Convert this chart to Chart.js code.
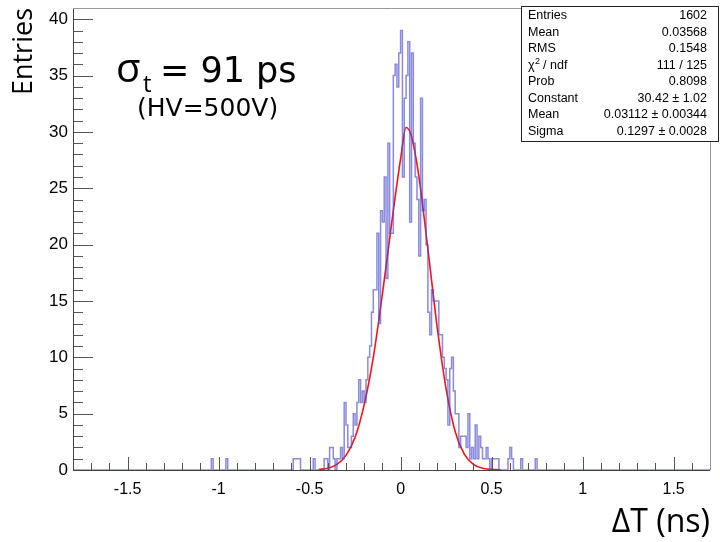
<!DOCTYPE html>
<html>
<head>
<meta charset="utf-8">
<script src="https://cdn.jsdelivr.net/npm/chart.js@4.4.0/dist/chart.umd.min.js"></script>
<style>
  html, body { margin: 0; padding: 0; background: #fff; }
</style>
</head>
<body>
<canvas id="deltaT" width="720" height="542"></canvas>
<script>
// bin contents (0.01 ns bins)
const binWidth = 0.01;
const coreStart = -0.60;
const coreCounts = [
  0, 1, 1, 1, 1, 0, 0, 0, 0, 0,
  0, 0, 1, 0, 0, 0, 0, 0, 1, 1,
  0, 2, 2, 1, 0, 1, 1, 2, 1, 6,
  4, 2, 2, 3, 5, 4, 6, 8, 6, 7,
  6, 8, 10, 11, 14, 16, 16, 21, 13, 23,
  22, 26, 17, 29, 21, 21, 35, 36, 34, 37,
  39, 26, 33, 35, 38, 22, 37, 29, 26, 24,
  19, 33, 23, 24, 20, 14, 12, 16, 15, 15,
  15, 12, 12, 10, 9, 8, 4, 9, 10, 7,
  5, 5, 2, 3, 3, 3, 2, 5, 1, 2,
  1, 4, 1, 3, 2, 1, 1, 2, 1, 0,
  1, 1, 1, 1, 0, 0, 0, 0, 0, 1,
  2, 1, 0, 0, 0, 0, 1, 0, 0, 0,
  0, 0, 0, 0, 1
];
const tailEdges = [-1.04, -0.96];
const tailCounts = [1, 1];

// gaussian fit curve
const fitX = [-0.45, -0.40, -0.35, -0.30, -0.25, -0.20, -0.15, -0.10, -0.05, 0.00, 0.03, 0.06, 0.10, 0.15, 0.20, 0.25, 0.30, 0.35, 0.40, 0.45, 0.55];
const fitY = [0.05, 0.15, 0.5, 1.3, 2.9, 5.8, 10.0, 15.6, 21.8, 27.6, 30.4, 29.6, 26.1, 19.6, 12.8, 7.2, 3.4, 1.4, 0.5, 0.15, 0.02];

const xTicks = [-1.5, -1, -0.5, 0, 0.5, 1, 1.5];
const yTicks = [0, 5, 10, 15, 20, 25, 30, 35, 40];

const statLabels = ['Entries', 'Mean', 'RMS', 'χ2 / ndf', 'Prob', 'Constant', 'Mean', 'Sigma'];
const statValues = ['1602', '0.03568', '0.1548', '111 / 125', '0.8098', '30.42 ± 1.02', '0.03112 ± 0.00344', '0.1297 ± 0.0028'];

const xMin = -1.8, xMax = 1.7, yMax = 41;
const narrow = '"Liberation Sans Narrow", "Liberation Sans", Arial, sans-serif';

// build the stepped histogram outline over the whole axis
const counts = {};
coreCounts.forEach((c, i) => { counts[Math.round((coreStart + i * binWidth) * 100)] = c; });
tailEdges.forEach((e, i) => { counts[Math.round(e * 100)] = tailCounts[i]; });
const histPoints = [];
for (let k = Math.round(xMin * 100); k < Math.round(xMax * 100); k++) {
  histPoints.push({ x: k / 100, y: counts[k] || 0 });
}
histPoints.push({ x: xMax, y: 0 });

const fitPoints = fitX.map((x, i) => ({ x: x, y: fitY[i] }));

// ROOT style ticks inside the frame + frame lines
const insideTicks = {
  id: 'insideTicks',
  afterDatasetsDraw(chart) {
    const { ctx, chartArea: a, scales: { x, y } } = chart;
    ctx.save();
    ctx.lineWidth = 1;
    ctx.strokeStyle = '#555';
    ctx.beginPath();
    for (let v = -18; v <= 17; v++) {
      const px = Math.round(x.getPixelForValue(v / 10)) + 0.5;
      const len = v % 5 === 0 ? 13 : 7;
      ctx.moveTo(px, a.bottom);
      ctx.lineTo(px, a.bottom - len);
    }
    for (let v = 0; v <= 40; v++) {
      const py = Math.round(y.getPixelForValue(v)) + 0.5;
      const len = v % 5 === 0 ? 20 : 10;
      ctx.moveTo(a.left, py);
      ctx.lineTo(a.left + len, py);
    }
    ctx.stroke();

    ctx.strokeStyle = '#444';
    ctx.beginPath();
    ctx.moveTo(a.left + 0.5, a.top);
    ctx.lineTo(a.left + 0.5, a.bottom + 0.5);
    ctx.lineTo(a.right, a.bottom + 0.5);
    ctx.stroke();
    ctx.strokeStyle = '#999';
    ctx.beginPath();
    ctx.moveTo(a.left, a.top + 0.5);
    ctx.lineTo(a.right + 0.5, a.top + 0.5);
    ctx.lineTo(a.right + 0.5, a.bottom);
    ctx.stroke();
    ctx.restore();
  }
};

// stats box and the resolution text
const annotations = {
  id: 'annotations',
  afterDraw(chart) {
    const ctx = chart.ctx;
    ctx.save();

    // stats box
    ctx.fillStyle = '#fff';
    ctx.fillRect(521, 6, 198, 136);
    ctx.strokeStyle = '#222';
    ctx.lineWidth = 1;
    ctx.strokeRect(521.5, 6.5, 197, 135);
    ctx.fillStyle = '#000';
    ctx.font = '12.5px ' + narrow;
    ctx.textBaseline = 'middle';
    statLabels.forEach((lab, i) => {
      const yy = 16 + i * 16.5;
      ctx.textAlign = 'left';
      if (lab.startsWith('χ2')) {
        ctx.fillText('χ', 528, yy);
        const w = ctx.measureText('χ').width;
        ctx.font = '9px ' + narrow;
        ctx.fillText('2', 528 + w + 0.5, yy - 4);
        ctx.font = '12.5px ' + narrow;
        ctx.fillText(' / ndf', 528 + w + 5, yy);
      } else {
        ctx.fillText(lab, 528, yy);
      }
      ctx.textAlign = 'right';
      ctx.fillText(statValues[i], 707, yy);
    });

    // sigma_t = 91 ps
    ctx.textAlign = 'left';
    ctx.textBaseline = 'alphabetic';
    ctx.font = '40px "Open Sans"';
    ctx.fillText('σ', 116, 82);
    ctx.font = '24px "Open Sans"';
    ctx.fillText('t', 143, 92);
    ctx.font = '35px "DejaVu Sans"';
    ctx.fillText('= 91 ps', 160, 82);
    ctx.font = '25px "DejaVu Sans"';
    ctx.fillText('(HV=500V)', 137, 116);
    ctx.restore();
  }
};

new Chart(document.getElementById('deltaT'), {
  type: 'line',
  data: {
    datasets: [{
      label: 'ΔT',
      data: histPoints,
      stepped: true,
      borderColor: 'rgba(75, 75, 205, 0.65)',
      borderWidth: 1.5,
      pointRadius: 0,
      fill: false
    }, {
      label: 'gaus',
      data: fitPoints,
      borderColor: '#ff1010',
      borderWidth: 1.6,
      pointRadius: 0,
      cubicInterpolationMode: 'monotone',
      fill: false
    }]
  },
  options: {
    responsive: false,
    animation: false,
    layout: { padding: { top: 8, right: 10, left: 0, bottom: 0 } },
    plugins: {
      legend: { display: false },
      tooltip: { enabled: false }
    },
    scales: {
      x: {
        type: 'linear',
        min: xMin,
        max: xMax,
        grid: { display: false, drawTicks: false },
        border: { display: false },
        afterBuildTicks: s => { s.ticks = xTicks.map(v => ({ value: v })); },
        afterFit: s => { s.height = 72; s.paddingLeft = 0; s.paddingRight = 0; },
        ticks: {
          color: '#000',
          padding: 10,
          maxRotation: 0,
          font: { family: narrow, size: 16 },
          callback: v => String(v)
        },
        title: {
          display: true,
          text: 'ΔT (ns)',
          align: 'end',
          color: '#000',
          padding: { top: 0, bottom: 0 },
          font: { family: 'Open Sans', size: 32 }
        }
      },
      y: {
        type: 'linear',
        min: 0,
        max: yMax,
        grid: { display: false, drawTicks: false },
        border: { display: false },
        afterBuildTicks: s => { s.ticks = yTicks.map(v => ({ value: v })); },
        afterFit: s => { s.width = 73; s.paddingTop = 0; s.paddingBottom = 0; },
        ticks: {
          color: '#000',
          padding: 5,
          font: { family: narrow, size: 17 }
        },
        title: {
          display: true,
          text: 'Entries',
          align: 'end',
          color: '#000',
          padding: { top: 8, bottom: 0 },
          font: { family: 'Open Sans', size: 27 }
        }
      }
    }
  },
  plugins: [insideTicks, annotations]
});
</script>
</body>
</html>
